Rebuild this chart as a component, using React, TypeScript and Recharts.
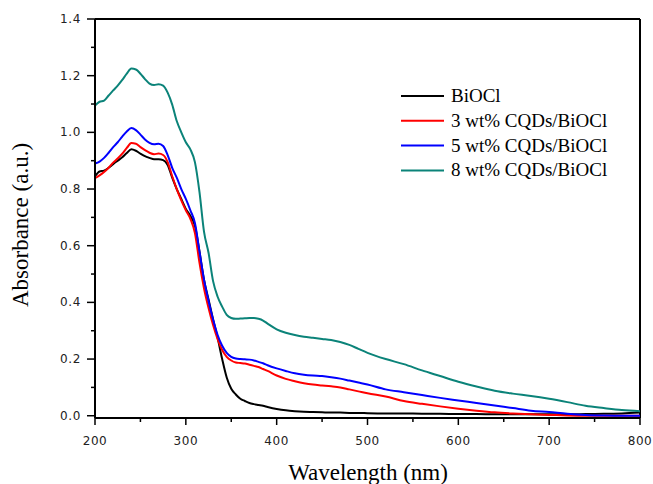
import React from 'react';
import { LineChart, Line, XAxis, YAxis, ReferenceLine, Legend, Label } from 'recharts';

// wavelengths (nm)
const wavelengths = [
  200, 205, 210, 215, 220, 225, 230, 235, 240, 245, 250, 255, 260, 265, 270, 275, 280, 285, 290, 295,
  300, 305, 310, 315, 320, 325, 330, 335, 340, 345, 350, 355, 360, 365, 370, 375, 380, 385, 390, 400,
  410, 420, 430, 440, 450, 460, 470, 480, 490, 500, 520, 540, 560, 580, 600, 620, 640, 660, 680, 700,
  720, 740, 760, 780, 800,
];

const biocl = [
  0.845, 0.862, 0.865, 0.875, 0.888, 0.9, 0.912, 0.927, 0.94, 0.935, 0.925, 0.916, 0.91, 0.905, 0.905, 0.902, 0.885, 0.84, 0.8, 0.765,
  0.73, 0.705, 0.67, 0.58, 0.48, 0.41, 0.34, 0.275, 0.2, 0.135, 0.095, 0.075, 0.06, 0.052, 0.045, 0.041, 0.038, 0.035, 0.031, 0.024,
  0.019, 0.016, 0.014, 0.013, 0.012, 0.011, 0.011, 0.01, 0.01, 0.009, 0.008, 0.008, 0.007, 0.007, 0.006, 0.006, 0.005, 0.005, 0.005, 0.005,
  0.005, 0.006, 0.007, 0.008, 0.011,
];

const cqd3 = [
  0.838, 0.848, 0.86, 0.875, 0.893, 0.908, 0.925, 0.945, 0.962, 0.96, 0.948, 0.937, 0.928, 0.923, 0.925, 0.92, 0.895, 0.845, 0.8, 0.76,
  0.725, 0.695, 0.645, 0.54, 0.45, 0.38, 0.32, 0.27, 0.232, 0.208, 0.195, 0.188, 0.186, 0.184, 0.18, 0.176, 0.172, 0.165, 0.158, 0.142,
  0.13, 0.122, 0.115, 0.11, 0.107, 0.104, 0.1, 0.093, 0.086, 0.079, 0.068, 0.052, 0.042, 0.033, 0.025, 0.018, 0.012, 0.008, 0.005, 0.003,
  0.001, 0, 0, 0, 0,
];

const cqd5 = [
  0.89, 0.897, 0.91, 0.928, 0.948, 0.965, 0.985, 1.003, 1.015, 1.008, 0.992, 0.975, 0.963, 0.958, 0.96, 0.952, 0.92, 0.875, 0.84, 0.8,
  0.765, 0.725, 0.68, 0.58, 0.48, 0.405, 0.34, 0.285, 0.247, 0.222, 0.208, 0.202, 0.2, 0.199, 0.198, 0.195, 0.19, 0.185, 0.178, 0.167,
  0.158, 0.15, 0.145, 0.142, 0.14, 0.136, 0.131, 0.124, 0.117, 0.11, 0.093, 0.083, 0.073, 0.063, 0.054, 0.045, 0.036, 0.027, 0.018, 0.013,
  0.007, 0.003, 0.001, 0, 0,
];

const cqd8 = [
  1.095, 1.108, 1.112, 1.13, 1.148, 1.165, 1.185, 1.207, 1.225, 1.222, 1.207, 1.188, 1.172, 1.167, 1.17, 1.165, 1.14, 1.098, 1.04, 1.0,
  0.965, 0.94, 0.895, 0.79, 0.65, 0.575, 0.475, 0.42, 0.385, 0.356, 0.345, 0.342, 0.343, 0.344, 0.345, 0.345, 0.342, 0.336, 0.325, 0.305,
  0.293, 0.285, 0.279, 0.275, 0.271, 0.267, 0.26, 0.25, 0.236, 0.222, 0.2, 0.182, 0.16, 0.14, 0.12, 0.103, 0.088, 0.078, 0.07, 0.06,
  0.048, 0.035, 0.027, 0.02, 0.016,
];

const seriesNames = ['BiOCl', '3 wt% CQDs/BiOCl', '5 wt% CQDs/BiOCl', '8 wt% CQDs/BiOCl'];
const seriesKeys = ['biocl', 'cqd3', 'cqd5', 'cqd8'];
const seriesColors = ['#000000', '#ff0000', '#0000ff', '#0b8379'];

const xTicks = [200, 250, 300, 350, 400, 450, 500, 550, 600, 650, 700, 750, 800];
const yTicks = [0, 0.1, 0.2, 0.3, 0.4, 0.5, 0.6, 0.7, 0.8, 0.9, 1.0, 1.1, 1.2, 1.3, 1.4];

const data = wavelengths.map((wl, i) => ({
  wl,
  biocl: biocl[i],
  cqd3: cqd3[i],
  cqd5: cqd5[i],
  cqd8: cqd8[i],
}));

const tickStyle = { fontFamily: '"DejaVu Sans", sans-serif', fontSize: 12, letterSpacing: 0.6 };
const serifStyle = { fontFamily: '"Liberation Serif", "Times New Roman", serif' };

const XTick = (props: any) => {
  const { x, y, payload } = props;
  const major = payload.value % 100 === 0;
  return (
    <g>
      <line x1={x} x2={x} y1={y} y2={y + (major ? 7 : 4)} stroke="#000" strokeWidth={1.5} />
      {major && (
        <text x={x} y={y + 27} textAnchor="middle" fill="#222" style={tickStyle}>
          {payload.value}
        </text>
      )}
    </g>
  );
};

const YTick = (props: any) => {
  const { x, y, payload } = props;
  const major = Math.round(payload.value * 10) % 2 === 0;
  return (
    <g>
      <line x1={x - (major ? 8 : 4)} x2={x} y1={y} y2={y} stroke="#000" strokeWidth={1.5} />
      {major && (
        <text x={x - 14} y={y + 4} textAnchor="end" fill="#222" style={tickStyle}>
          {payload.value.toFixed(1)}
        </text>
      )}
    </g>
  );
};

const LegendBox = () => (
  <svg width={250} height={110}>
    {seriesNames.map((name, i) => (
      <g key={name}>
        <line x1={0} x2={43} y1={12 + i * 24.8} y2={12 + i * 24.8} stroke={seriesColors[i]} strokeWidth={2} />
        <text x={50} y={18 + i * 24.8} fill="#000" style={{ ...serifStyle, fontSize: 19 }}>
          {name}
        </text>
      </g>
    ))}
  </svg>
);

export default function App() {
  return (
    <div style={{ position: 'absolute', left: 0, top: 0, width: 653, height: 484, background: '#fff' }}>
      <LineChart width={653} height={484} data={data} margin={{ top: 19, right: 13, left: 35, bottom: 36 }}>
        <XAxis
          dataKey="wl"
          type="number"
          domain={[200, 800]}
          ticks={xTicks}
          interval={0}
          tickSize={0}
          tickMargin={0}
          height={30}
          axisLine={{ stroke: '#000', strokeWidth: 2 }}
          tickLine={false}
          tick={<XTick />}
        >
          <Label
            content={() => (
              <text x={368} y={480} textAnchor="middle" fill="#000" style={{ ...serifStyle, fontSize: 23 }}>
                Wavelength (nm)
              </text>
            )}
          />
        </XAxis>
        <YAxis
          type="number"
          domain={[-0.008, 1.4]}
          ticks={yTicks}
          interval={0}
          tickSize={0}
          tickMargin={0}
          width={60}
          axisLine={{ stroke: '#000', strokeWidth: 2 }}
          tickLine={false}
          tick={<YTick />}
        >
          <Label
            content={() => (
              <text
                x={28}
                y={225}
                transform="rotate(-90 28 225)"
                textAnchor="middle"
                fill="#000"
                style={{ ...serifStyle, fontSize: 23 }}
              >
                Absorbance (a.u.)
              </text>
            )}
          />
        </YAxis>
        <ReferenceLine y={1.4} stroke="#000" strokeWidth={2} />
        <ReferenceLine x={800} stroke="#000" strokeWidth={2} />
        {seriesKeys.map((k, i) => (
          <Line
            key={k}
            dataKey={k}
            name={seriesNames[i]}
            type="monotone"
            stroke={seriesColors[i]}
            strokeWidth={2}
            dot={false}
            isAnimationActive={false}
          />
        ))}
        <Legend
          layout="horizontal"
          verticalAlign="middle"
          content={<LegendBox />}
          wrapperStyle={{ left: 401, top: 84, width: 250, height: 110 }}
        />
      </LineChart>
    </div>
  );
}
